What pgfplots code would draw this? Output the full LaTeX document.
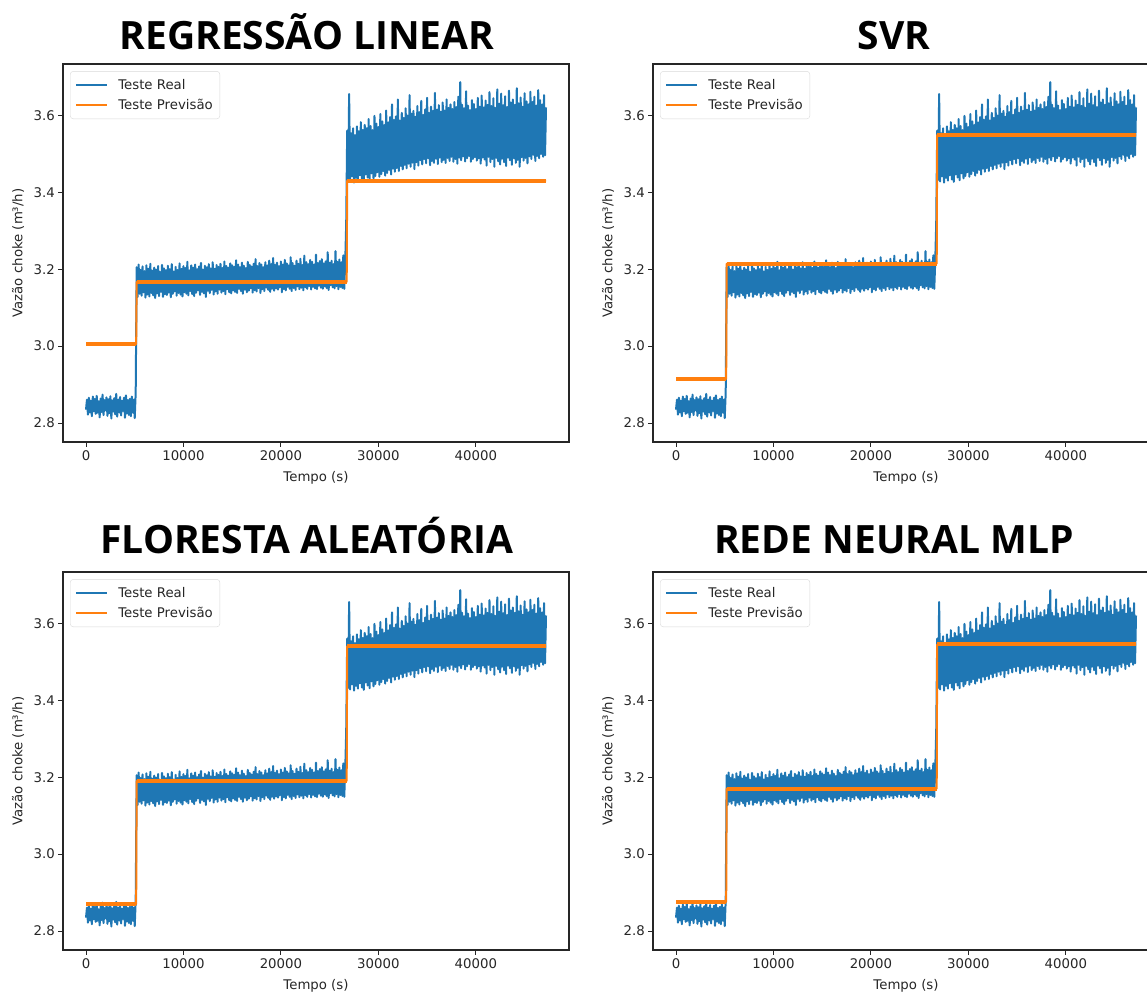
\documentclass[border=0pt]{standalone}
\usepackage{pgfplots}
\pgfplotsset{compat=1.18}
\usepackage{pgfplotstable}
\usepackage{fontspec}
\setmainfont{DejaVu Sans}
\newfontfamily\titlefont{Open Sans}
\definecolor{mblue}{HTML}{1F77B4}
\definecolor{morange}{HTML}{FF7F0E}
\newcommand\mplfont{\fontsize{13.3}{16}\selectfont}

% Teste Real: one value every 100 s, from t = 0 s to t = 47200 s
\pgfplotstableread[row sep=\\,header=false]{
2.835\\2.861\\2.822\\2.866\\2.828\\2.858\\2.818\\2.869\\2.831\\2.863\\
2.824\\2.871\\2.827\\2.857\\2.815\\2.864\\2.829\\2.874\\2.821\\2.860\\
2.833\\2.867\\2.819\\2.862\\2.826\\2.870\\2.812\\2.859\\2.830\\2.865\\
2.823\\2.876\\2.817\\2.861\\2.828\\2.868\\2.820\\2.858\\2.832\\2.866\\
2.814\\2.872\\2.825\\2.860\\2.821\\2.863\\2.818\\2.869\\2.827\\2.861\\
2.813\\2.880\\
3.205\\3.128\\3.212\\3.136\\3.198\\3.131\\3.207\\3.140\\3.195\\3.126\\
3.210\\3.134\\3.201\\3.129\\3.214\\3.138\\3.196\\3.132\\3.204\\3.125\\
3.199\\3.137\\3.208\\3.130\\3.193\\3.141\\3.211\\3.128\\3.202\\3.135\\
3.197\\3.133\\3.209\\3.139\\3.200\\3.127\\3.213\\3.136\\3.194\\3.142\\
3.206\\3.131\\3.198\\3.138\\3.215\\3.134\\3.201\\3.129\\3.208\\3.140\\
3.203\\3.136\\3.219\\3.132\\3.197\\3.143\\3.210\\3.135\\3.204\\3.130\\
3.212\\3.139\\3.200\\3.145\\3.207\\3.133\\3.216\\3.141\\3.199\\3.137\\
3.209\\3.128\\3.205\\3.144\\3.213\\3.138\\3.202\\3.146\\3.218\\3.134\\
3.201\\3.142\\3.211\\3.136\\3.206\\3.147\\3.214\\3.139\\3.203\\3.143\\
3.220\\3.135\\3.208\\3.148\\3.204\\3.140\\3.215\\3.137\\3.210\\3.145\\
3.206\\3.141\\3.223\\3.138\\3.212\\3.149\\3.205\\3.143\\3.217\\3.136\\
3.209\\3.147\\3.203\\3.140\\3.219\\3.144\\3.211\\3.150\\3.207\\3.139\\
3.214\\3.145\\3.226\\3.142\\3.208\\3.151\\3.216\\3.138\\3.212\\3.148\\
3.205\\3.143\\3.218\\3.152\\3.210\\3.146\\3.222\\3.141\\3.213\\3.149\\
3.229\\3.144\\3.211\\3.150\\3.217\\3.147\\3.208\\3.153\\3.220\\3.140\\
3.212\\3.148\\3.224\\3.145\\3.215\\3.154\\3.210\\3.149\\3.231\\3.143\\
3.216\\3.151\\3.209\\3.146\\3.222\\3.155\\3.214\\3.148\\3.227\\3.152\\
3.211\\3.145\\3.235\\3.153\\3.218\\3.149\\3.213\\3.156\\3.224\\3.147\\
3.219\\3.154\\3.212\\3.150\\3.238\\3.148\\3.216\\3.157\\3.221\\3.152\\
3.226\\3.149\\3.215\\3.155\\3.220\\3.151\\3.244\\3.146\\3.217\\3.158\\
3.222\\3.153\\3.213\\3.150\\3.247\\3.156\\3.219\\3.148\\3.225\\3.154\\
3.218\\3.151\\3.236\\3.149\\3.221\\3.320\\
3.560\\3.432\\3.655\\3.428\\3.553\\3.441\\3.566\\3.425\\3.548\\3.437\\
3.571\\3.430\\3.558\\3.444\\3.582\\3.433\\3.562\\3.427\\3.575\\3.446\\
3.566\\3.438\\3.590\\3.431\\3.572\\3.449\\3.561\\3.436\\3.598\\3.442\\
3.578\\3.452\\3.569\\3.440\\3.603\\3.447\\3.584\\3.455\\3.574\\3.443\\
3.612\\3.450\\3.581\\3.458\\3.595\\3.446\\3.628\\3.461\\3.588\\3.453\\
3.597\\3.463\\3.641\\3.455\\3.586\\3.468\\3.606\\3.459\\3.593\\3.471\\
3.618\\3.462\\3.599\\3.474\\3.652\\3.466\\3.604\\3.477\\3.611\\3.460\\
3.596\\3.478\\3.624\\3.469\\3.608\\3.483\\3.637\\3.472\\3.601\\3.486\\
3.615\\3.475\\3.645\\3.488\\3.606\\3.470\\3.622\\3.481\\3.611\\3.476\\
3.658\\3.487\\3.614\\3.473\\3.626\\3.490\\3.609\\3.478\\3.633\\3.484\\
3.612\\3.476\\3.641\\3.489\\3.619\\3.481\\3.628\\3.492\\3.616\\3.479\\
3.634\\3.486\\3.621\\3.474\\3.648\\3.490\\3.686\\3.483\\3.627\\3.493\\
3.618\\3.480\\3.662\\3.488\\3.625\\3.494\\3.613\\3.479\\3.639\\3.486\\
3.629\\3.491\\3.616\\3.482\\3.645\\3.488\\3.622\\3.474\\3.651\\3.490\\
3.620\\3.485\\3.638\\3.469\\3.627\\3.492\\3.660\\3.478\\3.624\\3.486\\
3.644\\3.466\\3.619\\3.489\\3.667\\3.480\\3.630\\3.472\\3.656\\3.487\\
3.626\\3.478\\3.649\\3.468\\3.621\\3.490\\3.664\\3.483\\3.633\\3.471\\
3.641\\3.488\\3.627\\3.476\\3.670\\3.484\\3.631\\3.466\\3.646\\3.491\\
3.622\\3.482\\3.657\\3.489\\3.636\\3.475\\3.628\\3.493\\3.661\\3.486\\
3.634\\3.497\\3.648\\3.481\\3.625\\3.494\\3.665\\3.488\\3.639\\3.499\\
3.628\\3.492\\3.652\\3.496\\3.620\\
}\realdata

\pgfplotsset{
  panel/.style={
    scale only axis, width=506pt, height=378pt,
    xmin=-2360, xmax=49560, ymin=2.751, ymax=3.733,
    xtick={0,10000,20000,30000,40000},
    ytick={2.8,3.0,3.2,3.4,3.6},
    scaled x ticks=false,
    xticklabel style={/pgf/number format/1000 sep={}},
    yticklabel style={/pgf/number format/.cd, fixed, fixed zerofill, precision=1},
    /pgf/number format/assume math mode=true,
    tick align=outside, major tick length=4.7pt,
    every tick/.style={black!85, line width=1pt},
    axis line style={line width=1.1pt, black!85},
    xtick pos=bottom, ytick pos=left,
    tick label style={font=\mplfont, text=black!85},
    xlabel={Tempo (s)}, ylabel={Vazão choke (m³/h)},
    every axis x label/.style={at={(axis description cs:0.5,0)}, anchor=center, yshift=-36pt, font=\mplfont, text=black!85},
    every axis y label/.style={at={(axis description cs:0,0.5)}, anchor=center, xshift=-45pt, rotate=90, font=\mplfont, text=black!85},
    legend cell align=left,
    legend style={at={(axis description cs:0.014,0.981)}, anchor=north west,
      draw=black!15, rounded corners=3pt, fill=white,
      font=\mplfont, nodes={font=\mplfont, text=black!85}, inner xsep=5pt, inner ysep=6pt, row sep=4pt, column sep=8pt},
    legend image code/.code={\draw[##1, line width=2pt] (0pt,0pt) -- (31pt,0pt);},
  },
  realline/.style={mblue, line width=2pt, line join=round},
  predthin/.style={morange, line width=2pt, line join=round},
  predthick/.style={morange, line width=4pt, unbounded coords=jump, forget plot},
}

\begin{document}
\begin{tikzpicture}
\path[use as bounding box] (0pt,0pt) rectangle (1147pt,994pt);
\clip (0pt,0pt) rectangle (1147pt,994pt);

\node[font=\titlefont\bfseries\fontsize{39}{47}\selectfont, anchor=base] at (307pt,944pt) {REGRESSÃO LINEAR};
\node[font=\titlefont\bfseries\fontsize{39}{47}\selectfont, anchor=base] at (894pt,944pt) {SVR};
\node[font=\titlefont\bfseries\fontsize{39}{47}\selectfont, anchor=base] at (307pt,441pt) {FLORESTA ALEATÓRIA};
\node[font=\titlefont\bfseries\fontsize{39}{47}\selectfont, anchor=base] at (894pt,441pt) {REDE NEURAL MLP};

% Regressao linear
\begin{axis}[panel, at={(63pt,552pt)}, anchor=south west]
\addplot[realline] table[x expr=\coordindex*100, y index=0] {\realdata};
\addlegendentry{Teste Real}
\addplot[predthin] coordinates {(0,3.005) (5150,3.005) (5200,3.167) (26750,3.167) (26800,3.430) (47200,3.430)};
\addlegendentry{Teste Previsão}
\addplot[predthick] coordinates {(0,3.005) (5150,3.005) (5175,nan) (5200,3.167) (26750,3.167) (26775,nan) (26800,3.430) (47200,3.430)};
\end{axis}

% SVR
\begin{axis}[panel, at={(653pt,552pt)}, anchor=south west]
\addplot[realline] table[x expr=\coordindex*100, y index=0] {\realdata};
\addlegendentry{Teste Real}
\addplot[predthin] coordinates {(0,2.915) (5150,2.915) (5200,3.214) (26750,3.214) (26800,3.549) (47200,3.549)};
\addlegendentry{Teste Previsão}
\addplot[predthick] coordinates {(0,2.915) (5150,2.915) (5175,nan) (5200,3.214) (26750,3.214) (26775,nan) (26800,3.549) (47200,3.549)};
\end{axis}

% Floresta aleatoria
\begin{axis}[panel, at={(63pt,44pt)}, anchor=south west]
\addplot[realline] table[x expr=\coordindex*100, y index=0] {\realdata};
\addlegendentry{Teste Real}
\addplot[predthin] coordinates {(0,2.870) (5150,2.870) (5200,3.190) (26750,3.190) (26800,3.540) (47200,3.540)};
\addlegendentry{Teste Previsão}
\addplot[predthick] coordinates {(0,2.870) (5150,2.870) (5175,nan) (5200,3.190) (26750,3.190) (26775,nan) (26800,3.540) (47200,3.540)};
\end{axis}

% Rede neural MLP
\begin{axis}[panel, at={(653pt,44pt)}, anchor=south west]
\addplot[realline] table[x expr=\coordindex*100, y index=0] {\realdata};
\addlegendentry{Teste Real}
\addplot[predthin] coordinates {(0,2.876) (5150,2.876) (5200,3.170) (26750,3.170) (26800,3.545) (47200,3.545)};
\addlegendentry{Teste Previsão}
\addplot[predthick] coordinates {(0,2.876) (5150,2.876) (5175,nan) (5200,3.170) (26750,3.170) (26775,nan) (26800,3.545) (47200,3.545)};
\end{axis}
\end{tikzpicture}
\end{document}
